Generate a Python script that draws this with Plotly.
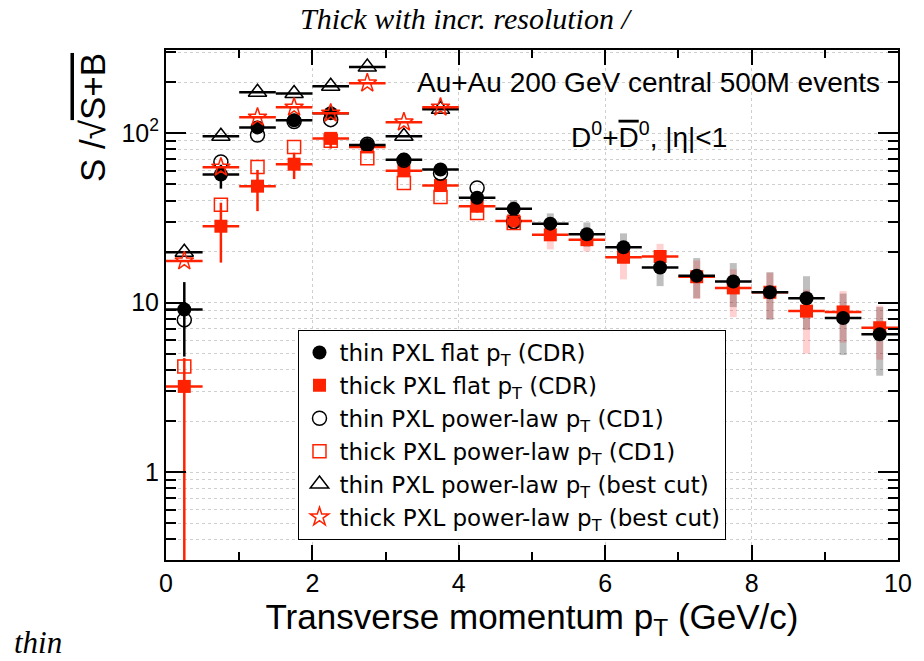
import numpy as np
import plotly.graph_objects as go

# ---------------- data ----------------
pt = [0.25, 0.75, 1.25, 1.75, 2.25, 2.75, 3.25, 3.75, 4.25, 4.75,
      5.25, 5.75, 6.25, 6.75, 7.25, 7.75, 8.25, 8.75, 9.25, 9.75]
bin_half_width = 0.25

thin_flat = [9.1, 57, 108, 119, 131, 85, 69.5, 61, 41.5, 35.7,
             29.2, 25.3, 21.2, 16.1, 14.4, 13.3, 11.5, 10.6, 8.1, 6.5]
thin_flat_up = [4.1, 8, 5, 4, 4, 3, 3, 3, 3, 4.5,
                4.4, 4.4, 4.4, 2.9, 3.9, 3.8, 3.6, 3.7, 3.2, 2.9]
thin_flat_dn = [4.3, 10, 5, 4, 4, 3, 3, 3, 3, 4,
                4, 4, 4, 3.6, 3.8, 3.9, 3.6, 3.7, 3.2, 2.8]

thick_flat = [3.2, 28.2, 48.6, 65.5, 93, 82.8, 60, 49, 37, 30.3,
              25.1, 23.5, 18.5, 18.7, 14.2, 12.2, 11.5, 8.9, 8.8, 7.1]
thick_flat_up = [1.5, 10.6, 12, 11, 8, 6, 5, 4, 3, 3,
                 3.5, 3.5, 4, 3.5, 3.5, 3.5, 3.5, 3, 2.9, 2.5]
thick_flat_dn = [3.05, 11, 14, 12, 12, 6, 5, 4, 3, 3,
                 4.5, 3.5, 4.8, 2.5, 3.7, 4.0, 3.5, 3.9, 3.0, 2.5]

pt_cd1 = [0.25, 0.75, 1.25, 1.75, 2.25, 2.75, 3.25, 3.75, 4.25, 4.75]
thin_cd1 = [7.9, 67.5, 97.3, 117, 120, 86, 69, 58, 47.4, 30]
thick_cd1 = [4.2, 37.7, 63.1, 82.7, 90, 71, 50.8, 42, 33.8, 29.5]

pt_best = [0.25, 0.75, 1.25, 1.75, 2.25, 2.75, 3.25, 3.75]
thin_best = [19.8, 95.7, 174, 171, 189, 245, 95.7, 138]
thick_best = [17.6, 62.8, 124, 142, 131, 197, 116, 142]

y_tickvals = [1, 10, 100]
y_ticktext = ["1", "10", "10<sup>2</sup>"]
x_tickvals = [0, 2, 4, 6, 8, 10]

# ---------------- styles ----------------
RED = "#ff2200"
FONT = "Liberation Sans, Arial, sans-serif"

pt_a = np.array(pt)
hi = pt_a > 4.5  # high-pT bins drawn with translucent wide error bars
tf, tfu, tfd = map(np.array, (thin_flat, thin_flat_up, thin_flat_dn))
kf, kfu, kfd = map(np.array, (thick_flat, thick_flat_up, thick_flat_dn))

fig = go.Figure()

# translucent error bands (high pT)
fig.add_trace(go.Scatter(
    x=pt_a[hi], y=tf[hi], mode="markers", marker=dict(opacity=0, size=1),
    error_y=dict(type="data", array=tfu[hi], arrayminus=tfd[hi],
                 color="rgba(0,0,0,0.25)", thickness=7, width=0),
    showlegend=False, hoverinfo="skip"))
fig.add_trace(go.Scatter(
    x=pt_a[hi], y=kf[hi], mode="markers", marker=dict(opacity=0, size=1),
    error_y=dict(type="data", array=kfu[hi], arrayminus=kfd[hi],
                 color="rgba(255,0,0,0.18)", thickness=7, width=0),
    showlegend=False, hoverinfo="skip"))

sub = "p<sub>T</sub>"

fig.add_trace(go.Scatter(
    x=pt, y=thick_flat, mode="markers", name=f"thick PXL flat {sub} (CDR)",
    legendrank=2,
    marker=dict(symbol="square", size=13, color=RED),
    error_x=dict(type="constant", value=bin_half_width, color=RED, thickness=2.5, width=0),
    error_y=dict(type="data", array=np.where(hi, 0, kfu), arrayminus=np.where(hi, 0, kfd),
                 color=RED, thickness=2.5, width=0)))

fig.add_trace(go.Scatter(
    x=pt, y=thin_flat, mode="markers", name=f"thin PXL flat {sub} (CDR)",
    legendrank=1,
    marker=dict(symbol="circle", size=14, color="black"),
    error_x=dict(type="constant", value=bin_half_width, color="black", thickness=2.5, width=0),
    error_y=dict(type="data", array=np.where(hi, 0, tfu), arrayminus=np.where(hi, 0, tfd),
                 color="black", thickness=2.5, width=0)))

fig.add_trace(go.Scatter(
    x=pt_cd1, y=thin_cd1, mode="markers", name=f"thin PXL power-law {sub} (CD1)",
    legendrank=3,
    marker=dict(symbol="circle-open", size=14, color="black", line=dict(width=1.5))))

fig.add_trace(go.Scatter(
    x=pt_cd1, y=thick_cd1, mode="markers", name=f"thick PXL power-law {sub} (CD1)",
    legendrank=4,
    marker=dict(symbol="square-open", size=13, color=RED, line=dict(width=1.5))))

fig.add_trace(go.Scatter(
    x=pt_best, y=thin_best, mode="markers", name=f"thin PXL power-law {sub} (best cut)",
    legendrank=5,
    marker=dict(symbol="triangle-up-open", size=16, color="black", line=dict(width=1.5)),
    error_x=dict(type="constant", value=bin_half_width, color="black", thickness=2.5, width=0)))

fig.add_trace(go.Scatter(
    x=pt_best, y=thick_best, mode="markers", name=f"thick PXL power-law {sub} (best cut)",
    legendrank=6,
    marker=dict(symbol="star-open", size=14, color=RED, line=dict(width=1.5)),
    error_x=dict(type="constant", value=bin_half_width, color=RED, thickness=2.5, width=0)))

minor_y = [m * 10 ** e for e in range(-1, 3) for m in range(2, 10)]

fig.update_layout(
    width=924, height=661,
    margin=dict(l=166, r=18, t=50, b=101),
    paper_bgcolor="white", plot_bgcolor="white",
    font=dict(family=FONT, size=24, color="black"),
    showlegend=True,
    legend=dict(x=0.181, y=0.451, xanchor="left", yanchor="top",
                bgcolor="white", bordercolor="black", borderwidth=1,
                font=dict(size=23, family="DejaVu Sans, Liberation Sans, sans-serif"),
                traceorder="normal"),
    xaxis=dict(range=[0, 10], tickvals=x_tickvals, ticks="inside", ticklen=15,
               tickwidth=1.5, tickcolor="black", showline=True, linecolor="black",
               linewidth=2, mirror="ticks", showgrid=True, gridcolor="#cfcfcf",
               griddash="dot", gridwidth=1, zeroline=False,
               tickfont=dict(size=25),
               minor=dict(dtick=1, ticks="inside", ticklen=8, tickcolor="black", showgrid=False),
               title=dict(text="Transverse momentum p<sub>T</sub> (GeV/c)",
                          font=dict(size=35), standoff=8)),
    yaxis=dict(type="log", range=[-0.519, 2.49], tickvals=y_tickvals, ticktext=y_ticktext,
               ticks="inside", ticklen=20, tickwidth=1.5, tickcolor="black",
               showline=True, linecolor="black", linewidth=2, mirror="ticks",
               showgrid=True, gridcolor="#cfcfcf", griddash="dot", gridwidth=1,
               zeroline=False, tickfont=dict(size=25),
               minor=dict(tickvals=minor_y, ticks="inside", ticklen=10, tickcolor="black",
                          showgrid=True, gridcolor="#cfcfcf", griddash="dot")),
    annotations=[
        dict(text="Au+Au 200 GeV central 500M events", xref="paper", yref="paper",
             x=0.978, y=0.937, xanchor="right", yanchor="middle", showarrow=False,
             font=dict(size=28, family=FONT)),
        dict(text="D<sup>0</sup>+<span style='text-decoration:overline'>D</span><sup>0</sup>, |η|&lt;1",
             xref="paper", yref="paper", x=0.66, y=0.833, xanchor="center",
             yanchor="middle", showarrow=False, font=dict(size=28, family=FONT)),
        dict(text="S /√<span style='text-decoration:overline'>S+B</span>",
             xref="paper", yref="paper", x=-0.100, y=0.868, textangle=-90,
             xanchor="center", yanchor="middle", showarrow=False,
             font=dict(size=35, family=FONT)),
        dict(text="<i>Thick with incr. resolution /</i>", xref="paper", yref="paper",
             x=(469 - 166) / 740, y=(560 - 19) / 510, xanchor="center", yanchor="middle",
             showarrow=False, font=dict(size=30, family="Liberation Serif, serif")),
        dict(text="<i>thin</i>", xref="paper", yref="paper",
             x=(10 - 166) / 740, y=(560 - 642) / 510, xanchor="left", yanchor="middle",
             showarrow=False, font=dict(size=31, family="Liberation Serif, serif")),
    ],
)

fig.write_html("out.html")
